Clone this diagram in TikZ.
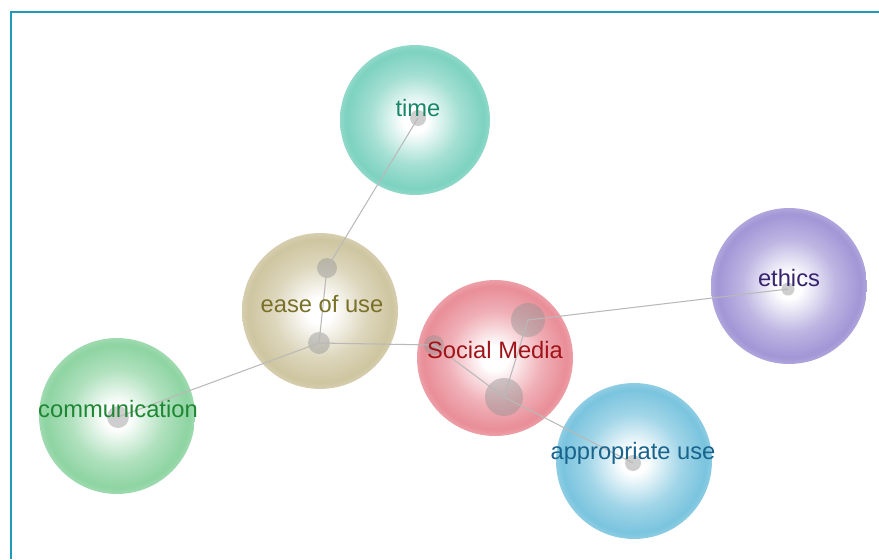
\documentclass[tikz,border=0pt]{standalone}
\usepackage{fontspec}
\setmainfont{Liberation Sans}

\definecolor{framecol}{RGB}{30,155,185}
\definecolor{timefill}{RGB}{125,210,192}
\definecolor{easefill}{RGB}{206,197,160}
\definecolor{socialfill}{RGB}{233,142,152}
\definecolor{ethicsfill}{RGB}{162,150,214}
\definecolor{commfill}{RGB}{142,212,162}
\definecolor{appfill}{RGB}{122,196,222}
\definecolor{timetext}{RGB}{25,135,105}
\definecolor{easetext}{RGB}{122,112,40}
\definecolor{socialtext}{RGB}{160,20,25}
\definecolor{ethicstext}{RGB}{55,35,110}
\definecolor{commtext}{RGB}{30,135,50}
\definecolor{apptext}{RGB}{25,100,140}
\colorlet{bubblecolor}{gray}
\pgfdeclareradialshading[bubblecolor]{bubble}{\pgfpoint{0bp}{0bp}}{%
	color(0bp)=(white); color(4bp)=(white); color(15bp)=(bubblecolor!70!white);
	color(23bp)=(bubblecolor); color(25bp)=(bubblecolor!85!white); color(50bp)=(bubblecolor!85!white)}

\begin{document}
\begin{tikzpicture}[
					x = 0.02cm, y = -0.02cm,
					bubble/.style = {circle, inner sep = 0pt, minimum size = 3.12cm,
						/utils/exec = {\colorlet{bubblecolor}{#1}}, shading = bubble},
					dot/.style = {circle, inner sep = 0pt, minimum size = #1, fill = gray!85, fill opacity = 0.45},
					link/.style = {draw = gray!55, line width = 0.6pt},
					word/.style = {font = \fontsize{13.5}{16}\selectfont, text = #1, inner sep = 1pt}]
					\useasboundingbox (0,0) rectangle (879,559);

					\draw[framecol, line width = 1.5pt] (11,559) -- (11,12) -- (879,12);

					\node[bubble = timefill, minimum size = 3cm] (time) at (415,120) {};
					\node[bubble = easefill] (ease) at (320,311) {};
					\node[bubble = socialfill] (social) at (495,358) {};
					\node[bubble = ethicsfill] (ethics) at (789,286) {};
					\node[bubble = commfill] (comm) at (117,416) {};
					\node[bubble = appfill] (approp) at (634,461) {};

					\node[dot = 0.32cm] (timedot) at (418,118) {};
					\node[dot = 0.40cm] (easeup) at (327,268) {};
					\node[dot = 0.44cm] (easelow) at (319,343) {};
					\node[dot = 0.40cm] (socleft) at (434,345) {};
					\node[dot = 0.68cm] (socup) at (528,320) {};
					\node[dot = 0.76cm] (soclow) at (504,397) {};
					\node[dot = 0.26cm] (ethdot) at (788,289) {};
					\node[dot = 0.44cm] (commdot) at (118,417) {};
					\node[dot = 0.32cm] (appdot) at (633,463) {};

					\draw[link] (timedot.center) -- (easeup.center) -- (easelow.center) -- (commdot.center);
					\draw[link] (easelow.center) -- (socleft.center) -- (soclow.center) -- (appdot.center);
					\draw[link] (ethdot.center) -- (socup.center) -- (soclow.center);

					\node[word = timetext] (timeword) at (418,108) {time};
					\node[word = easetext] (easeword) at (322,304) {ease of use};
					\node[word = socialtext] (socialword) at (495,350) {Social Media};
					\node[word = ethicstext] (ethicsword) at (789,278) {ethics};
					\node[word = commtext] (commword) at (118,409) {communication};
					\node[word = apptext] (appword) at (633,453) {appropriate use};

				\end{tikzpicture}
\end{document}
